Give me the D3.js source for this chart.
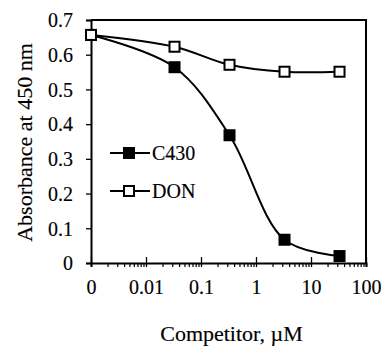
<!DOCTYPE html>
<html>
<head>
<meta charset="utf-8">
<script src="https://cdn.jsdelivr.net/npm/d3@7"></script>
<style>
  body { margin: 0; background: #fff; }
  svg text { font-family: "Liberation Serif", "Times New Roman", serif; fill: #000; stroke: #000; stroke-width: 0.15px; }
</style>
</head>
<body>
<div id="chart"></div>
<script>
// competitor concentration (uM); the "0" point is drawn at 0.001
const concentrations = [0.001, 0.033, 0.33, 3.3, 33];
const c430Values = [0.657, 0.564, 0.368, 0.067, 0.02];
const donValues = [0.657, 0.623, 0.571, 0.551, 0.551];
const xTickValues = [0.001, 0.01, 0.1, 1, 10, 100];
const xTickLabels = ["0", "0.01", "0.1", "1", "10", "100"];
const yTickValues = [0, 0.1, 0.2, 0.3, 0.4, 0.5, 0.6, 0.7];

const W = 385, H = 347;
const margin = {top: 20, right: 19, bottom: 84, left: 91};

const svg = d3.select("#chart").append("svg")
    .attr("width", W)
    .attr("height", H);

const x = d3.scaleLog()
    .domain([0.001, 100])
    .range([margin.left, W - margin.right]);

const y = d3.scaleLinear()
    .domain([0, 0.7])
    .range([H - margin.bottom, margin.top]);

// frame (top and right)
svg.append("path")
    .attr("d", `M${x(0.001)},${y(0.7)}H${x(100)}V${y(0)}`)
    .attr("fill", "none")
    .attr("stroke", "#000")
    .attr("stroke-width", 2);

// y axis
const yAxis = svg.append("g")
    .attr("transform", `translate(${x(0.001)},0)`)
    .call(d3.axisLeft(y).tickValues(yTickValues).tickSize(5).tickPadding(13)
        .tickFormat(d => d === 0 ? "0" : d3.format(".1f")(d)));
yAxis.select(".domain").attr("stroke-width", 2);
yAxis.selectAll(".tick line").attr("stroke-width", 1.3);
yAxis.selectAll(".tick text").attr("font-size", 20).attr("dy", "0.34em");

// x axis minor ticks
const minor = [];
for (let p = -3; p < 2; p++) {
    for (let k = 2; k <= 9; k++) minor.push(k * Math.pow(10, p));
}
const xMinor = svg.append("g")
    .attr("transform", `translate(0,${y(0)})`)
    .call(d3.axisBottom(x).tickValues(minor).tickSize(4).tickFormat(""));
xMinor.select(".domain").remove();
xMinor.selectAll(".tick line").attr("stroke-width", 1.2);

// x axis major ticks
const xAxis = svg.append("g")
    .attr("transform", `translate(0,${y(0)})`)
    .call(d3.axisBottom(x).tickValues(xTickValues).tickSize(4).tickPadding(27)
        .tickFormat((d, i) => xTickLabels[i]));
xAxis.select(".domain").attr("stroke-width", 2);
xAxis.selectAll(".tick line").attr("y1", -6).attr("stroke-width", 1.3);
xAxis.selectAll(".tick text").attr("font-size", 20).attr("dy", "0em");

// axis titles
svg.append("text")
    .attr("transform", `translate(32,${(y(0) + y(0.7)) / 2 + 1}) rotate(-90)`)
    .attr("text-anchor", "middle")
    .attr("font-size", 22)
    .text("Absorbance at 450 nm");

svg.append("text")
    .attr("x", (x(0.001) + x(100)) / 2 + 3)
    .attr("y", 341)
    .attr("text-anchor", "middle")
    .attr("font-size", 22)
    .text("Competitor, \u00b5M");

// series
const line = d3.line()
    .x(d => x(d[0]))
    .y(d => y(d[1]))
    .curve(d3.curveCatmullRom);

const series = [
    {name: "C430", values: c430Values, fill: "#000"},
    {name: "DON", values: donValues, fill: "#fff"}
];

series.forEach(s => {
    const pts = concentrations.map((c, i) => [c, s.values[i]]);
    svg.append("path")
        .datum(pts)
        .attr("d", line)
        .attr("fill", "none")
        .attr("stroke", "#000")
        .attr("stroke-width", 2);
});

series.forEach(s => {
    svg.selectAll(null)
        .data(concentrations.map((c, i) => [c, s.values[i]]))
        .enter()
        .append("rect")
        .attr("x", d => x(d[0]) - 5)
        .attr("y", d => y(d[1]) - 5)
        .attr("width", 10)
        .attr("height", 10)
        .attr("fill", s.fill)
        .attr("stroke", "#000")
        .attr("stroke-width", 2);
});

// legend
const legend = svg.append("g");
series.forEach((s, i) => {
    const ly = 153 + i * 38;
    legend.append("line")
        .attr("x1", 110).attr("x2", 150)
        .attr("y1", ly).attr("y2", ly)
        .attr("stroke", "#000")
        .attr("stroke-width", 2);
    legend.append("rect")
        .attr("x", 124).attr("y", ly - 5)
        .attr("width", 10).attr("height", 10)
        .attr("fill", s.fill)
        .attr("stroke", "#000")
        .attr("stroke-width", 2);
    legend.append("text")
        .attr("x", 152)
        .attr("y", ly + 7)
        .attr("font-size", 20)
        .text(s.name);
});
</script>
</body>
</html>
